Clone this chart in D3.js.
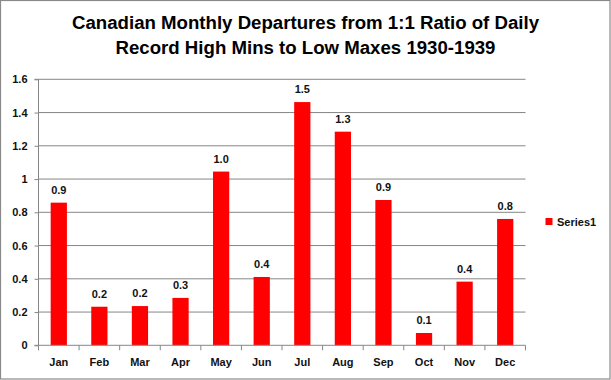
<!DOCTYPE html>
<html><head><meta charset="utf-8">
<script src="https://cdn.jsdelivr.net/npm/d3@7"></script>
<style>body{margin:0;background:#fff}svg{display:block}</style>
</head><body>
<script>
const months = ["Jan","Feb","Mar","Apr","May","Jun","Jul","Aug","Sep","Oct","Nov","Dec"];
const values = [0.858,0.232,0.236,0.285,1.045,0.411,1.463,1.285,0.874,0.074,0.383,0.760];
const yTicks = [0,0.2,0.4,0.6,0.8,1,1.2,1.4,1.6];
const titleLines = ["Canadian Monthly Departures from 1:1 Ratio of Daily","Record High Mins to Low Maxes 1930-1939"];
const seriesName = "Series1";

(function(){
const W = 611, H = 380;
const svg = d3.select("body").append("svg").attr("width", W).attr("height", H);
const font = "'Liberation Sans', Arial, sans-serif";

svg.append("rect").attr("x",0.5).attr("y",0.5).attr("width",609.5).attr("height",378.5)
  .attr("fill","#fff").attr("stroke","#898989").attr("stroke-width",1.2);

const pl = 38.5, pr = 525.5, pt = 79.3, pb = 345.3;
const x = d3.scaleBand().domain(months).range([pl, pr]).paddingInner(0.6).paddingOuter(0.3);
const y = d3.scaleLinear().domain([0,1.6]).range([pb, pt]);

// gridlines
svg.append("g").selectAll("line").data(yTicks.filter(d=>d>0)).join("line")
  .attr("x1", pl).attr("x2", pr)
  .attr("y1", d=>y(d)).attr("y2", d=>y(d))
  .attr("stroke","#868686").attr("stroke-width",1);

// bars
svg.append("g").selectAll("rect").data(values).join("rect")
  .attr("x",(d,i)=>x(months[i])).attr("width",x.bandwidth())
  .attr("y",d=>y(d)).attr("height",d=>pb-y(d))
  .attr("fill","#ff0000");

// data labels
svg.append("g").selectAll("text").data(values).join("text")
  .attr("x",(d,i)=>x(months[i])+x.bandwidth()/2).attr("y",d=>y(d)-9)
  .attr("text-anchor","middle").attr("font-family",font).attr("font-weight","bold")
  .attr("font-size",11).attr("fill","#111")
  .text(d=>d3.format(".1f")(d));

// y axis
const yAxis = d3.axisLeft(y).tickValues(yTicks).tickSize(4).tickPadding(7)
  .tickFormat(d=>d===0||d===1?String(d):d3.format(".1f")(d));
const gy = svg.append("g").attr("transform",`translate(${pl},0)`).call(yAxis);
gy.select(".domain").attr("stroke","#868686").attr("d",`M-4,${pt}H0V${pb}H-4`);
gy.selectAll(".tick line").attr("stroke","#868686");
gy.selectAll(".tick text").attr("font-family",font).attr("font-weight","bold").attr("font-size",11).attr("fill","#111");

// x axis
const xStep = (pr-pl)/12;
const gx = svg.append("g").attr("transform",`translate(0,${pb})`);
gx.append("line").attr("x1",pl).attr("x2",pr).attr("y1",0).attr("y2",0).attr("stroke","#868686");
gx.selectAll("line.t").data(d3.range(13)).join("line").attr("class","t")
  .attr("x1",i=>pl+i*xStep).attr("x2",i=>pl+i*xStep).attr("y1",0).attr("y2",5).attr("stroke","#868686");
gx.selectAll("text").data(months).join("text")
  .attr("x",d=>x(d)+x.bandwidth()/2).attr("y",21)
  .attr("text-anchor","middle").attr("font-family",font).attr("font-weight","bold")
  .attr("font-size",11).attr("fill","#111").text(d=>d);

// title
svg.append("g").selectAll("text").data(titleLines).join("text")
  .attr("x",305.5).attr("y",(d,i)=>29+i*25)
  .attr("text-anchor","middle").attr("font-family",font).attr("font-weight","bold")
  .attr("font-size",18).attr("fill","#000")
  .attr("textLength",(d,i)=>i===0?467:380).attr("lengthAdjust","spacingAndGlyphs")
  .text(d=>d);

// legend
svg.append("rect").attr("x",545.5).attr("y",218).attr("width",7).attr("height",7).attr("fill","#ff0000");
svg.append("text").attr("x",557).attr("y",226).attr("font-family",font).attr("font-weight","bold")
  .attr("font-size",11).attr("fill","#111").text(seriesName);
})();
</script>
</body></html>
